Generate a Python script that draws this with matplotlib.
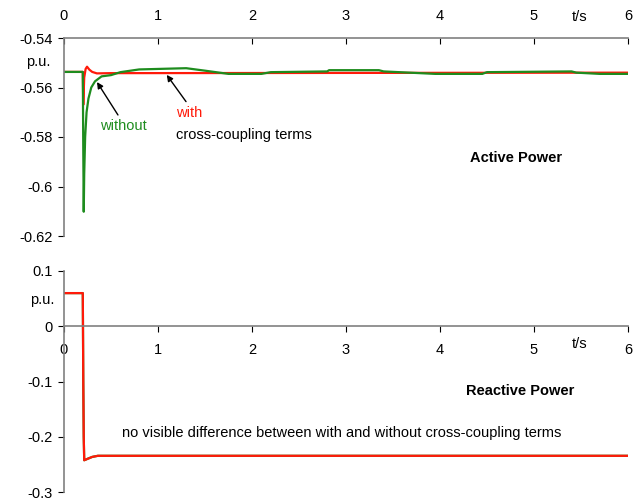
import matplotlib
matplotlib.use("Agg")
import matplotlib.pyplot as plt
from matplotlib.ticker import FuncFormatter

plt.rcParams['font.family'] = ['Liberation Sans', 'DejaVu Sans']
plt.rcParams['axes.unicode_minus'] = False
FS = 10.5

# ---------------- data ----------------
# Active power, with cross-coupling terms (red)
t_p_with = [0, 0.2, 0.205, 0.215, 0.23, 0.245, 0.27, 0.3, 0.35, 0.5, 6.0]
p_with = [-0.5537, -0.5537, -0.567, -0.556, -0.5525, -0.5516, -0.5528, -0.5537, -0.5543, -0.5542, -0.5540]

# Active power, without cross-coupling terms (green)
t_p_without = [0, 0.2, 0.205, 0.21, 0.215, 0.225, 0.24, 0.26, 0.29, 0.33, 0.4, 0.5, 0.6, 0.8,
               1.3, 1.5, 1.75, 2.1, 2.2, 2.8, 2.82, 3.35, 3.4, 3.95, 4.45, 4.5, 5.4, 5.45, 5.7, 6.0]
p_without = [-0.5537, -0.5537, -0.585, -0.6102, -0.595, -0.580, -0.570, -0.5645, -0.560, -0.5575,
             -0.5555, -0.555, -0.5538, -0.5527, -0.5522, -0.5532, -0.5545, -0.5545, -0.5538, -0.5535,
             -0.5530, -0.5530, -0.5535, -0.5545, -0.5545, -0.5538, -0.5535, -0.5540, -0.5545, -0.5545]

# Reactive power (both cases identical)
t_q = [0, 0.2, 0.205, 0.21, 0.215, 0.25, 0.3, 0.36, 6.0]
q_with = [0.06, 0.06, -0.10, -0.20, -0.2425, -0.240, -0.2365, -0.2345, -0.2345]
q_without = [0.06, 0.06, -0.10, -0.20, -0.2425, -0.240, -0.2365, -0.2345, -0.2345]

x_ticks = [0, 1, 2, 3, 4, 5, 6]
p_ticks = [-0.54, -0.56, -0.58, -0.6, -0.62]
q_ticks = [0.1, 0, -0.1, -0.2, -0.3]

RED = '#ff1a0a'
GREEN = '#1e8c1e'
SPINE = '#808080'

fig = plt.figure(figsize=(6.37, 5.03), dpi=100)
W, H = 637, 503
def rect(l, r, t, b):
    return [l / W, 1 - b / H, (r - l) / W, (b - t) / H]

fmt = FuncFormatter(lambda v, p: '%g' % v)

# ---------------- top: active power ----------------
ax1 = fig.add_axes(rect(64, 628, 38, 236))
ax1.plot(t_p_with, p_with, color=RED, lw=1.6)
ax1.plot(t_p_without, p_without, color=GREEN, lw=1.6)
ax1.set_xlim(0, 6)
ax1.set_ylim(-0.62, -0.54)
ax1.set_xticks(x_ticks)
ax1.set_yticks(p_ticks)
ax1.yaxis.set_major_formatter(fmt)
ax1.xaxis.tick_top()
ax1.tick_params(axis='x', direction='in', length=4, pad=11, labelsize=FS, color='black')
ax1.tick_params(axis='y', direction='out', length=4, pad=4, labelsize=FS, color='black')
for s in ['bottom', 'right']:
    ax1.spines[s].set_visible(False)
for s in ['top', 'left']:
    ax1.spines[s].set_color(SPINE)
    ax1.spines[s].set_linewidth(1.2)

ax1.text(-0.277, -0.5497, 'p.u.', ha='center', va='center', fontsize=FS, clip_on=False)
ax1.text(5.48, -0.5315, 't/s', ha='center', va='center', fontsize=FS, clip_on=False)
ax1.text(4.81, -0.5885, 'Active Power', ha='center', va='center', fontsize=FS, fontweight='bold')
ax1.text(0.38, -0.5756, 'without', color=GREEN, ha='left', va='center', fontsize=FS)
ax1.text(1.19, -0.5703, 'with', color=RED, ha='left', va='center', fontsize=FS)
ax1.text(1.19, -0.5792, 'cross-coupling terms', color='black', ha='left', va='center', fontsize=FS)
arrow = dict(arrowstyle='-|>', color='black', lw=1.0, mutation_scale=9, shrinkA=0, shrinkB=0)
ax1.annotate('', xy=(0.351, -0.5578), xytext=(0.574, -0.5711), arrowprops=arrow)
ax1.annotate('', xy=(1.093, -0.5549), xytext=(1.298, -0.5657), arrowprops=arrow)

# ---------------- bottom: reactive power ----------------
ax2 = fig.add_axes(rect(64, 628, 271, 492))
ax2.plot(t_q, q_without, color=GREEN, lw=1.6)
ax2.plot(t_q, q_with, color=RED, lw=1.6)
ax2.set_xlim(0, 6)
ax2.set_ylim(-0.3, 0.1)
ax2.set_xticks(x_ticks)
ax2.set_yticks(q_ticks)
ax2.yaxis.set_major_formatter(fmt)
ax2.spines['bottom'].set_position(('data', 0))
ax2.tick_params(axis='x', direction='out', length=4, pad=8, labelsize=FS, color='black')
ax2.tick_params(axis='y', direction='out', length=4, pad=4, labelsize=FS, color='black')
for s in ['top', 'right']:
    ax2.spines[s].set_visible(False)
for s in ['bottom', 'left']:
    ax2.spines[s].set_color(SPINE)
    ax2.spines[s].set_linewidth(1.2)

ax2.text(-0.23, 0.048, 'p.u.', ha='center', va='center', fontsize=FS, clip_on=False)
ax2.text(5.48, -0.032, 't/s', ha='center', va='center', fontsize=FS)
ax2.text(4.85, -0.1166, 'Reactive Power', ha='center', va='center', fontsize=FS, fontweight='bold')
ax2.text(2.95, -0.194, 'no visible difference between with and without cross-coupling terms',
         ha='center', va='center', fontsize=FS)

fig.savefig('out.png', dpi=100)
